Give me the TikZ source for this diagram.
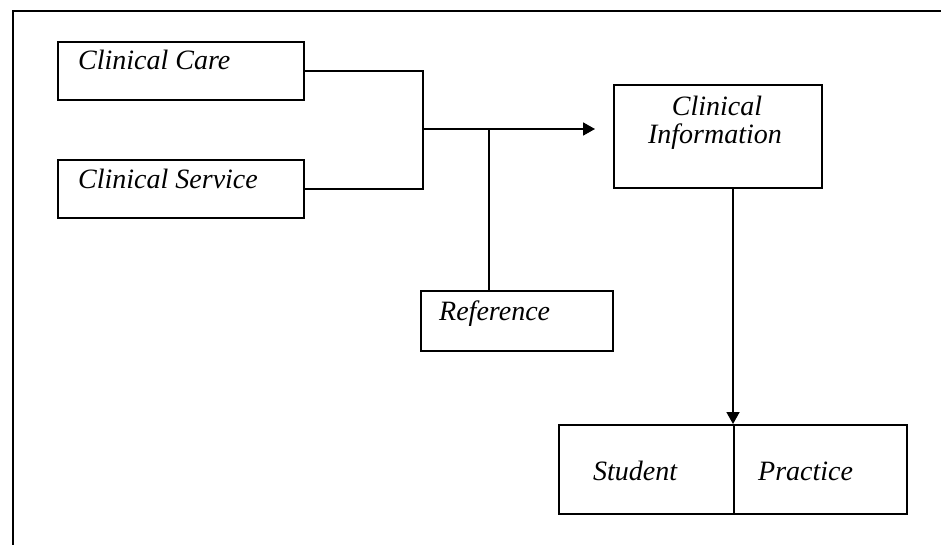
\documentclass[tikz,border=0pt]{standalone}
\usepackage{fontspec}
\setmainfont{Liberation Serif}
\usetikzlibrary{arrows.meta}
\tikzset{
  line/.style={line width=1.8pt, line cap=rect},
  box/.style={draw, line width=1.8pt, rectangle, inner sep=0pt, anchor=north west},
  txt/.style={inner sep=0pt, anchor=base west, font=\fontsize{28}{32}\selectfont\itshape},
  ctxt/.style={inner sep=0pt, anchor=base, font=\fontsize{28}{32}\selectfont\itshape},
  arr/.style={line, -{Triangle[length=12pt,width=13pt]}}
}
\begin{document}
\begin{tikzpicture}[x=1pt,y=-1pt]
\useasboundingbox (0,0) rectangle (941,544);
\fill[white] (0,0) rectangle (941,544);

% outer frame (open to the right and bottom)
\draw[line] (13,544) -- (13,11) -- (941,11);

% boxes
\node[box, minimum width=246pt, minimum height=58pt] (care) at (57,41) {};
\node[box, minimum width=246pt, minimum height=58pt] (service) at (57,159) {};
\node[box, minimum width=192pt, minimum height=60pt] (ref) at (420,290) {};
\node[box, minimum width=208pt, minimum height=103pt] (info) at (613,84) {};
\node[box, minimum width=175pt, minimum height=89pt] (student) at (558,424) {};
\node[box, minimum width=173pt, minimum height=89pt] (practice) at (733,424) {};

% labels
\node[txt] (tcare) at (78,69) {Clinical Care};
\node[txt] (tservice) at (78,188) {Clinical Service};
\node[txt] (tref) at (439,320) {Reference};
\node[ctxt] (tinfo1) at (717,115) {Clinical};
\node[ctxt] (tinfo2) at (715,143) {Information};
\node[txt] (tstudent) at (593,480) {Student};
\node[txt] (tpractice) at (758,480) {Practice};

% junctions
\coordinate (j1) at (423,129);
\coordinate (j2) at (489,129);
\coordinate (tip) at (595,129);

% connectors
\draw[line] (care.east) -| (j1) |- (service.east);
\draw[arr] (j1) -- (tip);
\draw[line] (j2) -- (j2 |- ref.north);
\draw[arr] (info.south -| practice.north west) -- (practice.north west);
\end{tikzpicture}
\end{document}
